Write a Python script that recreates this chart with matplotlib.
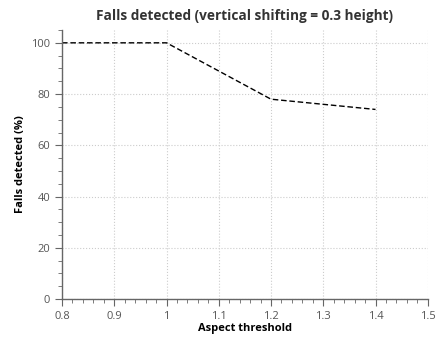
import matplotlib
matplotlib.use('Agg')
import matplotlib.pyplot as plt
from matplotlib.ticker import MultipleLocator

# data
thresholds = [0.8, 1.0, 1.2, 1.4]
falls_detected = [100, 100, 78, 74]

plt.rcParams['font.family'] = ['Open Sans', 'DejaVu Sans']

fig = plt.figure(figsize=(4.38, 3.41), dpi=100)
ax = fig.add_axes([0.1416, 0.123, 0.835, 0.789])

ax.plot(thresholds, falls_detected, color='black', linestyle=(0, (4, 2)), linewidth=1.0)

ax.set_xlim(0.8, 1.5)
ax.set_ylim(0, 105)
ax.xaxis.set_minor_locator(MultipleLocator(0.02))
ax.yaxis.set_major_locator(MultipleLocator(20))
ax.yaxis.set_minor_locator(MultipleLocator(5))
ax.set_xticks([0.8, 0.9, 1.0, 1.1, 1.2, 1.3, 1.4, 1.5])
ax.set_xticklabels(['0.8', '0.9', '1', '1.1', '1.2', '1.3', '1.4', '1.5'])

for s in ['top', 'right']:
    ax.spines[s].set_visible(False)
for s in ['left', 'bottom']:
    ax.spines[s].set_color('#666666')
    ax.spines[s].set_linewidth(1.0)

ax.tick_params(which='major', direction='out', length=5, color='#666666', labelsize=8, labelcolor='#555555')
ax.tick_params(which='minor', direction='out', length=3, color='#666666')
ax.grid(True, which='major', linestyle=':', color='#cccccc', linewidth=0.8)

ax.set_title('Falls detected (vertical shifting = 0.3 height)', fontsize=9.8, fontweight='bold', color='#333333', pad=7)
ax.set_xlabel('Aspect threshold', fontsize=8, fontweight='bold', labelpad=1)
ax.set_ylabel('Falls detected (%)', fontsize=8, fontweight='bold')

fig.savefig('out.png', dpi=100)
